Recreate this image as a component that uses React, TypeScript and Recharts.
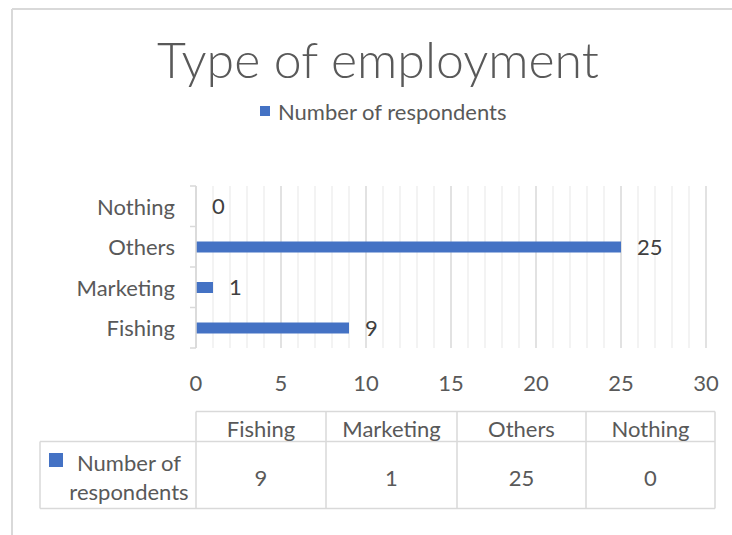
import React from "react";
import { BarChart, Bar, XAxis, YAxis, CartesianGrid, ReferenceDot, ReferenceLine } from "recharts";

const categories = ["Fishing", "Marketing", "Others", "Nothing"];
const respondents = [9, 1, 25, 0];
const seriesName = "Number of respondents";
const xTicks = [0, 5, 10, 15, 20, 25, 30];
const minorTicks = [1, 2, 3, 4, 6, 7, 8, 9, 11, 12, 13, 14, 16, 17, 18, 19, 21, 22, 23, 24, 26, 27, 28, 29];
const title = "Type of employment";
const tableLabel = ["Number of", "respondents"];

const data = categories.map((c, i) => ({ name: c, value: respondents[i] }));

const FONT = "Lato, 'Open Sans', sans-serif";
const TXT = "#595959";
const LINE = "#d9d9d9";
const BAR = "#4472C4";
const FS = 22;

const TICK_SIZE = 6;
const TICK_MARGIN = 15;
const MARGIN = { top: 186, right: 26, bottom: 157, left: 0 };

const YTick = (props: any) => {
  const { x, y, payload, index } = props;
  const half = payload && typeof payload.offset === "number" ? payload.offset : 0;
  const ax = x + TICK_MARGIN + TICK_SIZE;
  return (
    <g>
      <text x={x} y={y} textAnchor="end" dominantBaseline="central" fill={TXT} fontSize={FS} fontFamily={FONT}>
        {payload.value}
      </text>
      {half > 0 && (
        <line x1={ax - TICK_SIZE} x2={ax} y1={y - half} y2={y - half} stroke={LINE} strokeWidth={1.5} />
      )}
      {half > 0 && index === 0 && (
        <line x1={ax - TICK_SIZE} x2={ax} y1={y + half} y2={y + half} stroke={LINE} strokeWidth={1.5} />
      )}
    </g>
  );
};

const colX = [196, 326, 457, 586, 715];

export default function App() {
  return (
    <div style={{ position: "absolute", left: 0, top: 0, width: 732, height: 535, background: "#fff" }}>
      <svg width={732} height={535} style={{ position: "absolute", left: 0, top: 0 }}>
        <line x1={12} y1={9} x2={732} y2={9} stroke={LINE} strokeWidth={2} />
        <line x1={12} y1={9} x2={12} y2={535} stroke={LINE} strokeWidth={2} />
        <text x={378} y={78} textAnchor="middle" fill={TXT} fontSize={50} fontWeight={300} fontFamily={FONT}>
          {title}
        </text>
        <rect x={260} y={106} width={10} height={10} fill={BAR} />
        <text x={278} y={111} dominantBaseline="central" fill={TXT} fontSize={FS} fontFamily={FONT}>
          {seriesName}
        </text>
        {/* data table */}
        <line x1={196} x2={715} y1={411.5} y2={411.5} stroke={LINE} strokeWidth={1.5} />
        <line x1={40} x2={715} y1={441.5} y2={441.5} stroke={LINE} strokeWidth={1.5} />
        <line x1={40} x2={715} y1={508.5} y2={508.5} stroke={LINE} strokeWidth={1.5} />
        <line x1={40} x2={40} y1={441.5} y2={508.5} stroke={LINE} strokeWidth={1.5} />
        {colX.map((cx) => (
          <line key={cx} x1={cx} x2={cx} y1={411.5} y2={508.5} stroke={LINE} strokeWidth={1.5} />
        ))}
        {categories.map((c, i) => (
          <text key={c} x={(colX[i] + colX[i + 1]) / 2} y={428} textAnchor="middle" dominantBaseline="central" fill={TXT} fontSize={FS} fontFamily={FONT}>
            {c}
          </text>
        ))}
        {respondents.map((v, i) => (
          <text key={i} x={(colX[i] + colX[i + 1]) / 2} y={477} textAnchor="middle" dominantBaseline="central" fill={TXT} fontSize={FS} fontFamily={FONT}>
            {v}
          </text>
        ))}
        <rect x={49} y={453} width={14} height={14} fill={BAR} />
        <text x={129} y={462} textAnchor="middle" dominantBaseline="central" fill={TXT} fontSize={FS} fontFamily={FONT}>
          {tableLabel[0]}
        </text>
        <text x={129} y={491} textAnchor="middle" dominantBaseline="central" fill={TXT} fontSize={FS} fontFamily={FONT}>
          {tableLabel[1]}
        </text>
      </svg>
      {/* minor gridlines (background chart, beneath the bars) */}
      <div style={{ position: "absolute", left: 0, top: 0 }}>
        <BarChart width={732} height={535} data={data} layout="vertical" margin={MARGIN}>
          <XAxis type="number" domain={[0, 30]} ticks={xTicks} interval={0} height={30} axisLine={false} tickLine={false} tick={false} />
          <YAxis type="category" dataKey="name" reversed width={196} axisLine={false} tickLine={false} tick={false} />
          <Bar dataKey="value" fill="none" isAnimationActive={false} />
          {minorTicks.map((t) => (
            <ReferenceLine key={t} x={t} stroke="#efefef" strokeWidth={1.5} />
          ))}
        </BarChart>
      </div>
      <div style={{ position: "absolute", left: 0, top: 0 }}>
        <BarChart width={732} height={535} data={data} layout="vertical" margin={MARGIN}>
          <CartesianGrid horizontal={false} stroke={LINE} strokeWidth={1.5} />
          <XAxis
            type="number"
            domain={[0, 30]}
            ticks={xTicks}
            axisLine={false}
            tickLine={false}
            tickSize={6}
            tickMargin={21}
            height={30}
            interval={0}
            tick={{ fill: TXT, fontSize: FS, fontFamily: FONT }}
          />
          <YAxis
            type="category"
            dataKey="name"
            reversed
            width={196}
            axisLine={{ stroke: LINE, strokeWidth: 1.5 }}
            tickLine={false}
            tickSize={TICK_SIZE}
            tickMargin={TICK_MARGIN}
            interval={0}
            tick={<YTick />}
          />
          <Bar dataKey="value" fill={BAR} barSize={11} isAnimationActive={false} />
          {data.map((d) => (
            <ReferenceDot
              key={d.name}
              x={d.value}
              y={d.name}
              r={0}
              fill="none"
              stroke="none"
              label={{ value: d.value, position: "right", offset: 16, fill: "#404040", fontSize: FS, fontFamily: FONT }}
            />
          ))}
        </BarChart>
      </div>
    </div>
  );
}
